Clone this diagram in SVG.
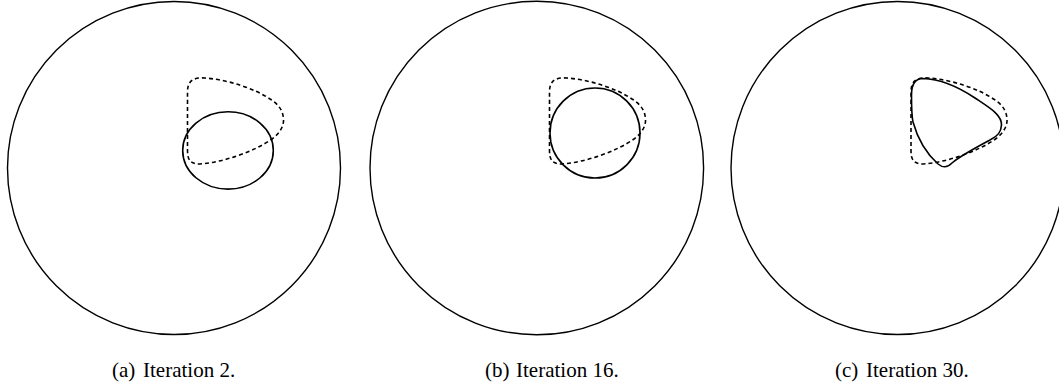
<svg xmlns="http://www.w3.org/2000/svg" width="1059" height="389" viewBox="0 0 1059 389">
<style>
.outer{fill:none;stroke:#000;stroke-width:1.4}
.sol{fill:none;stroke:#000;stroke-width:1.6}
.dash{fill:none;stroke:#000;stroke-width:1.6;stroke-dasharray:4 3}
.cap{font-family:"Liberation Serif","Times New Roman",serif;font-size:21px;fill:#000}
</style>
<defs>
<path id="target" d="M187.5,100 L187.5,150 C187.5,160 190,164 200,164 C225,162 255,151 272,139 C280,133 284,126 283.5,119 C283,110 278,104 270,99 C255,89 230,80 205,78 C192,77 187.5,82 187.5,92 Z"/>
</defs>
<rect width="1059" height="389" fill="#fff"/>
<g id="panel-a">
<circle class="outer" cx="174" cy="168" r="166.5"/>
<use href="#target" class="dash"/>
<ellipse class="sol" cx="228" cy="150.4" rx="45.3" ry="38.7"/>
<text class="cap" x="112" y="376.5">(a)</text>
<text class="cap" x="143" y="376.5">Iteration 2.</text>
</g>
<g id="panel-b">
<circle class="outer" cx="536.8" cy="168" r="166.8"/>
<use href="#target" class="dash" transform="translate(362,0)"/>
<circle class="sol" cx="595" cy="133" r="45"/>
<text class="cap" x="485" y="376.5">(b)</text>
<text class="cap" x="516" y="376.5">Iteration 16.</text>
</g>
<g id="panel-c">
<circle class="outer" cx="897.5" cy="168" r="166.5"/>
<use href="#target" class="dash" transform="translate(723.5,0)"/>
<path class="sol" d="M911.5,95 C911.5,84 915,78.5 923,78.5 C940,79 960,88 975,98 C990,108 1002,115 1001.5,125 C1001,132 998,136 990,140 C975,148 960,156 952,163 C947,168 943,168 938,164 C928,155 918,140 913,122 C911.5,115 911.5,105 911.5,95 Z"/>
<text class="cap" x="835" y="376.5">(c)</text>
<text class="cap" x="866" y="376.5">Iteration 30.</text>
</g>
</svg>
